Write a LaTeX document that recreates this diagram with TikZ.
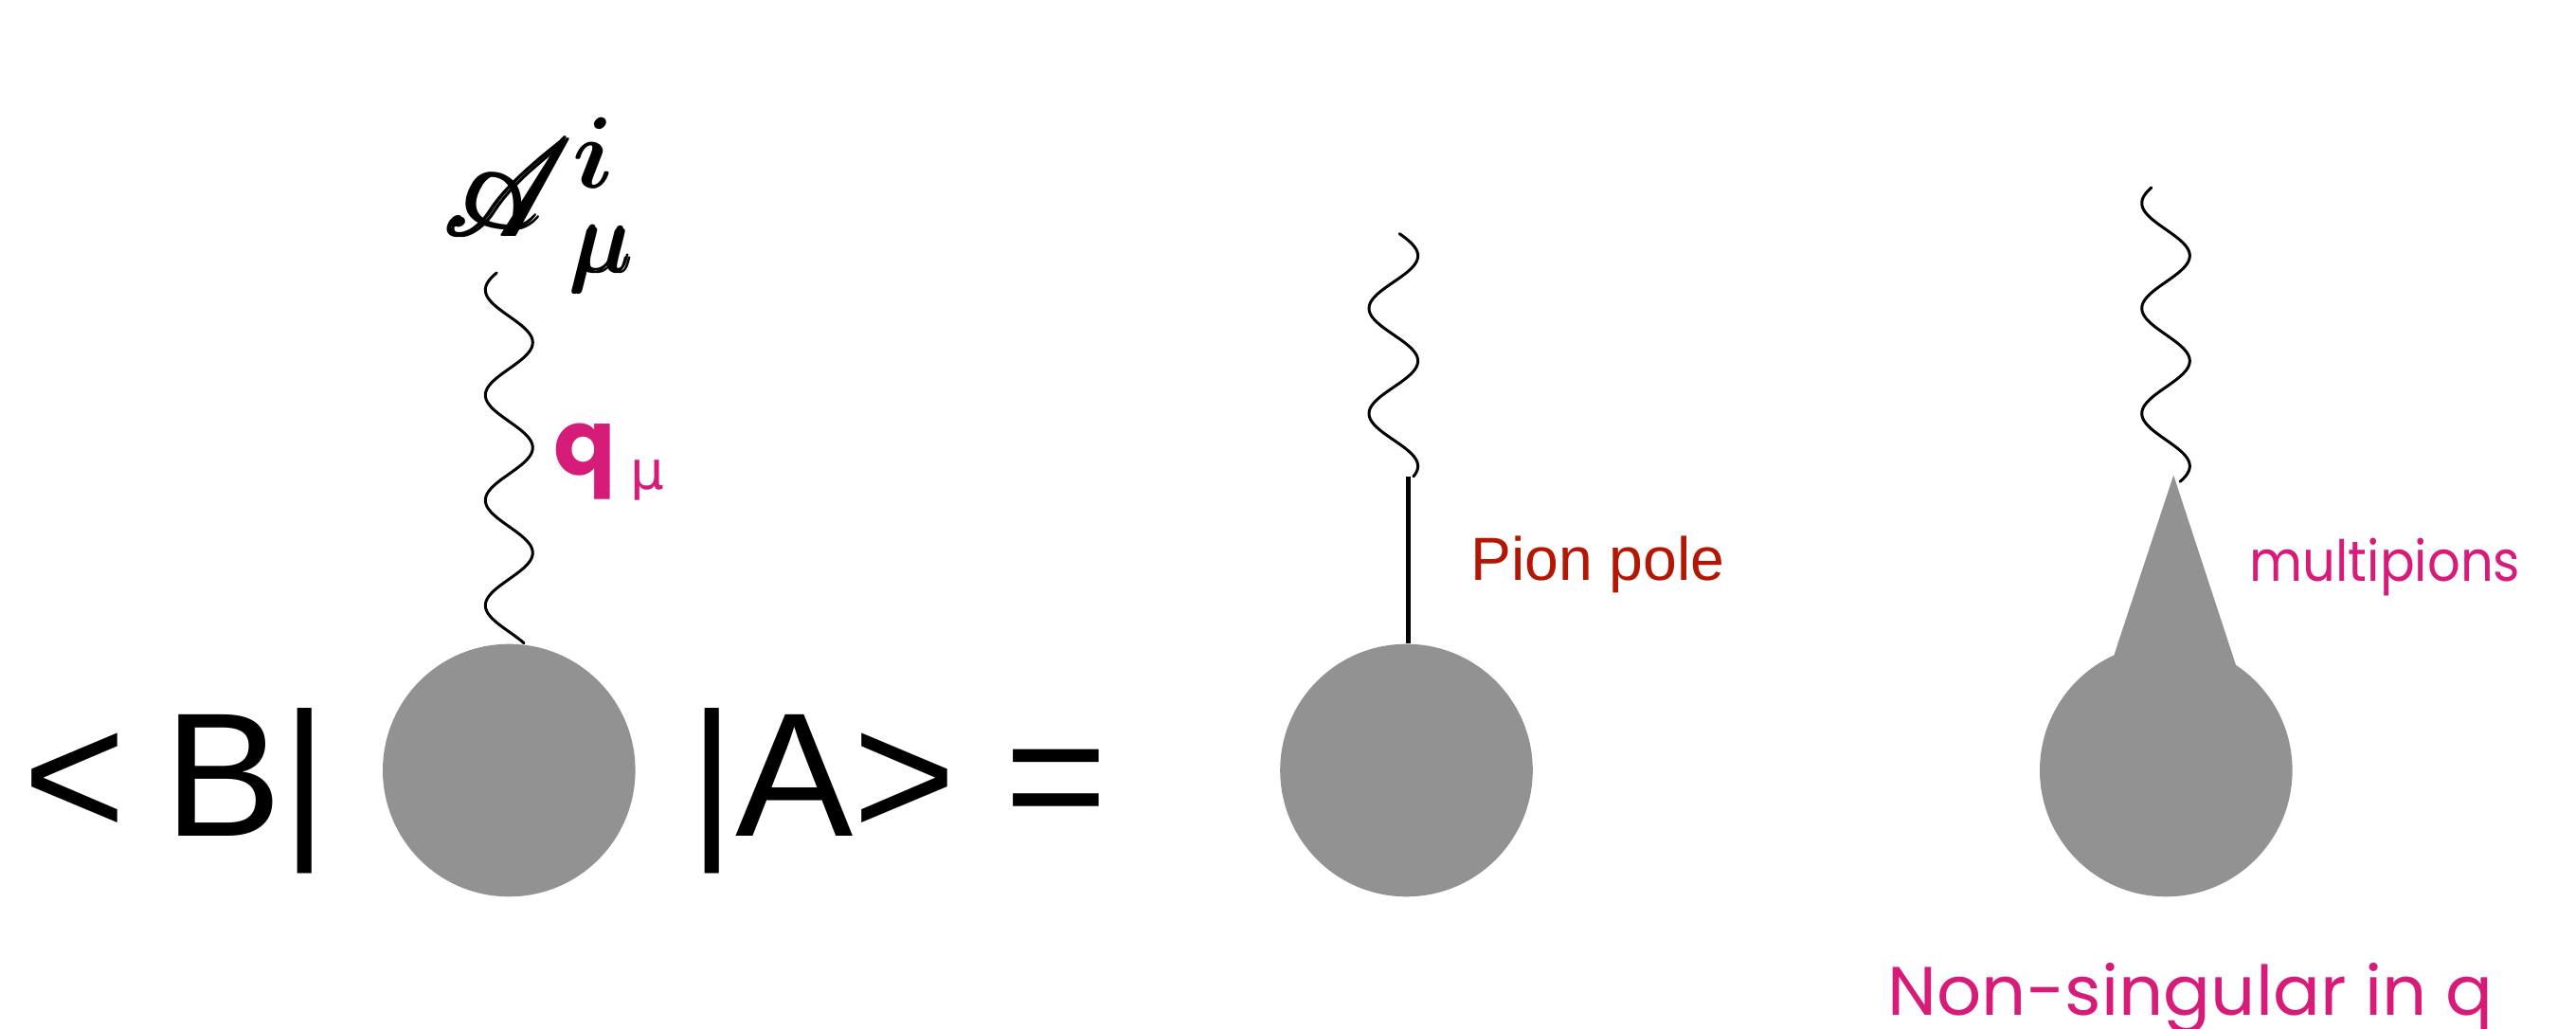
\documentclass[tikz,border=0pt]{standalone}
\usepackage{fontspec}
\usepackage{amsmath}
\usepackage{mathrsfs}
\usepackage{xcolor}
\usepackage{tikz}
\usetikzlibrary{positioning,calc}
\newfontfamily\helv{Liberation Sans}
\newfontfamily\comic{Poppins}
\newfontfamily\comicnarrow[FakeStretch=0.91]{Poppins}
\newfontfamily\comicwide[FakeStretch=1.02]{Poppins}
\newfontfamily\greek{DejaVu Sans}
\definecolor{blobgray}{RGB}{146,146,146}
\definecolor{polered}{RGB}{180,22,4}
\definecolor{labelpink}{RGB}{214,27,121}
\tikzset{
  blob/.style={
    circle,
    fill=blobgray,
    minimum size=2.666cm,
    inner sep=0pt
  },
  photon/.style={
    line width=0.85pt,
    line cap=round,
    black
  },
  pion/.style={
    line width=1.4pt,
    black
  },
  braket/.style={
    inner sep=0pt,
    anchor=base west,
    font=\helv\fontsize{53}{60}\selectfont
  },
  note/.style={
    inner sep=0pt,
    anchor=base west
  }
}

\begin{document}
\begin{tikzpicture}

  \useasboundingbox (0,0) rectangle (27.19,10.86);
  \clip (0,0) rectangle (27.19,10.86);

  % Blobs in a row
  \node[blob] (c1) at (5.373,2.73) {};
  \node[blob] (c2) at (14.845,2.73) {};
  \node[blob] (c3) at (22.863,2.73) {};

  % Matrix element
  \node[braket] (bra) at (0.24,2.035) {<\hspace{0.4cm}B|};
  \node[braket] (ket) at (7.27,2.035) {|A> =};

  % Current on the left blob
  \begin{scope}[shift={(c1.north)}]
    \draw[photon] plot[domain=3.91:0, samples=150, variable=\t]
      ({-0.25*cos(360*(\t-3.73)/1.11)}, \t);
  \end{scope}
  \node[note, scale=3.05] (curr) at (4.70,8.36)
    {$\smash{\pmb{\scalebox{1.2}[1.35]{$\mathscr{A}$}}}^{\raisebox{.12em}{$\boldsymbol{i}$}}_{\raisebox{-.1em}{$\pmb{\mu}$}}$};
  \node[note, text=labelpink] (mom) at (5.84,5.84)
    {\comic\bfseries\fontsize{27.5}{30}\selectfont q\hspace{0.15cm}%
     \greek\mdseries\fontsize{16}{18}\selectfont\raisebox{-0.15cm}{μ}};

  % Pion pole
  \coordinate (p2) at (14.865,5.83);
  \draw[pion] (p2) -- (p2 |- c2.north);
  \begin{scope}[shift={(p2)}]
    \draw[photon] plot[domain=2.563:0, samples=120, variable=\t]
      ({-0.157+0.258*cos(360*(\t-2.33)/1.11)}, \t);
  \end{scope}
  \node[note, text=polered, font=\helv\fontsize{18.3}{20}\selectfont] (pole) at (15.517,4.73) {Pion pole};

  % Multipion spike
  \coordinate (tip) at (22.942,5.845);
  \fill[blobgray] (22.315,3.95) -- (tip) -- (23.60,3.84) -- (c3.center) -- cycle;
  \begin{scope}[shift={(tip)}]
    \draw[photon] plot[domain=3.035:-0.069, samples=140, variable=\t]
      ({-0.082-0.253*cos(360*(\t-2.871)/1.11)}, \t);
  \end{scope}
  \node[note, text=labelpink, font=\comicnarrow\fontsize{17}{20}\selectfont] (multi) at (23.74,4.724) {multipions};
  \node[note, text=labelpink, font=\comicwide\fontsize{20.6}{24}\selectfont] (nonsing) at (19.92,0.143) {Non-singular in q};

\end{tikzpicture}
\end{document}
